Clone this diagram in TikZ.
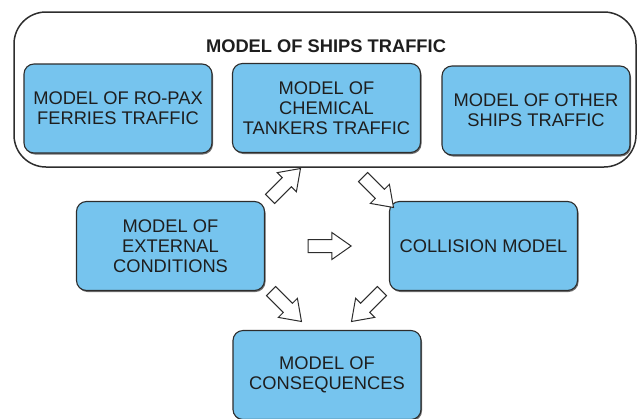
\documentclass[tikz,border=0pt]{standalone}
\usepackage{fontspec}
\setmainfont{Liberation Sans}
\usetikzlibrary{shapes.arrows,shadows}
\definecolor{boxblue}{RGB}{118,196,238}
\definecolor{edgegray}{RGB}{45,45,45}
\definecolor{txt}{RGB}{30,30,30}
\tikzset{
  mbox/.style={draw=edgegray, line width=1.1pt, fill=boxblue, rounded corners=10pt,
    minimum width=188pt, minimum height=89pt, align=center, text=txt,
    font=\fontsize{18.3pt}{20pt}\selectfont, inner sep=0pt,
    drop shadow={shadow xshift=1pt, shadow yshift=-1.5pt, fill=black!70, opacity=0.8}},
  barrow/.style={single arrow, draw=edgegray, line width=1pt, fill=white,
    minimum height=43pt, text height=12pt, text depth=0pt, text width=0pt,
    inner sep=0pt, single arrow head extend=7pt, single arrow head indent=0pt,
    single arrow tip angle=70, anchor=center}
}
\begin{document}
\begin{tikzpicture}[x=1pt,y=-1pt]
\useasboundingbox (0,0) rectangle (639,418);
\draw[draw=edgegray, line width=1.5pt, rounded corners=32pt] (14,12) rectangle (636,167);
\node[font=\bfseries\fontsize{18.3pt}{20pt}\selectfont, text=txt] (title) at (326,46) {MODEL OF SHIPS TRAFFIC};
\node[mbox] (ropax) at (118,108.5) {MODEL OF RO-PAX\\FERRIES TRAFFIC};
\node[mbox] (chem) at (326.5,108) {MODEL OF\\CHEMICAL\\TANKERS TRAFFIC};
\node[mbox] (other) at (536,110.5) {MODEL OF OTHER\\SHIPS TRAFFIC};
\node[mbox] (ext) at (170.5,246) {MODEL OF\\EXTERNAL\\CONDITIONS};
\node[mbox] (coll) at (483.5,246) {COLLISION MODEL};
\node[mbox] (cons) at (327,375) {MODEL OF\\CONSEQUENCES};
\node[barrow, rotate=45] (a1) at (282,187) {};
\node[barrow, rotate=-45] (a2) at (375,189) {};
\node[barrow] (a3) at (325,246) {};
\node[barrow, rotate=-45] (a4) at (283,303) {};
\node[barrow, rotate=-135] (a5) at (370,303) {};
\end{tikzpicture}
\end{document}
